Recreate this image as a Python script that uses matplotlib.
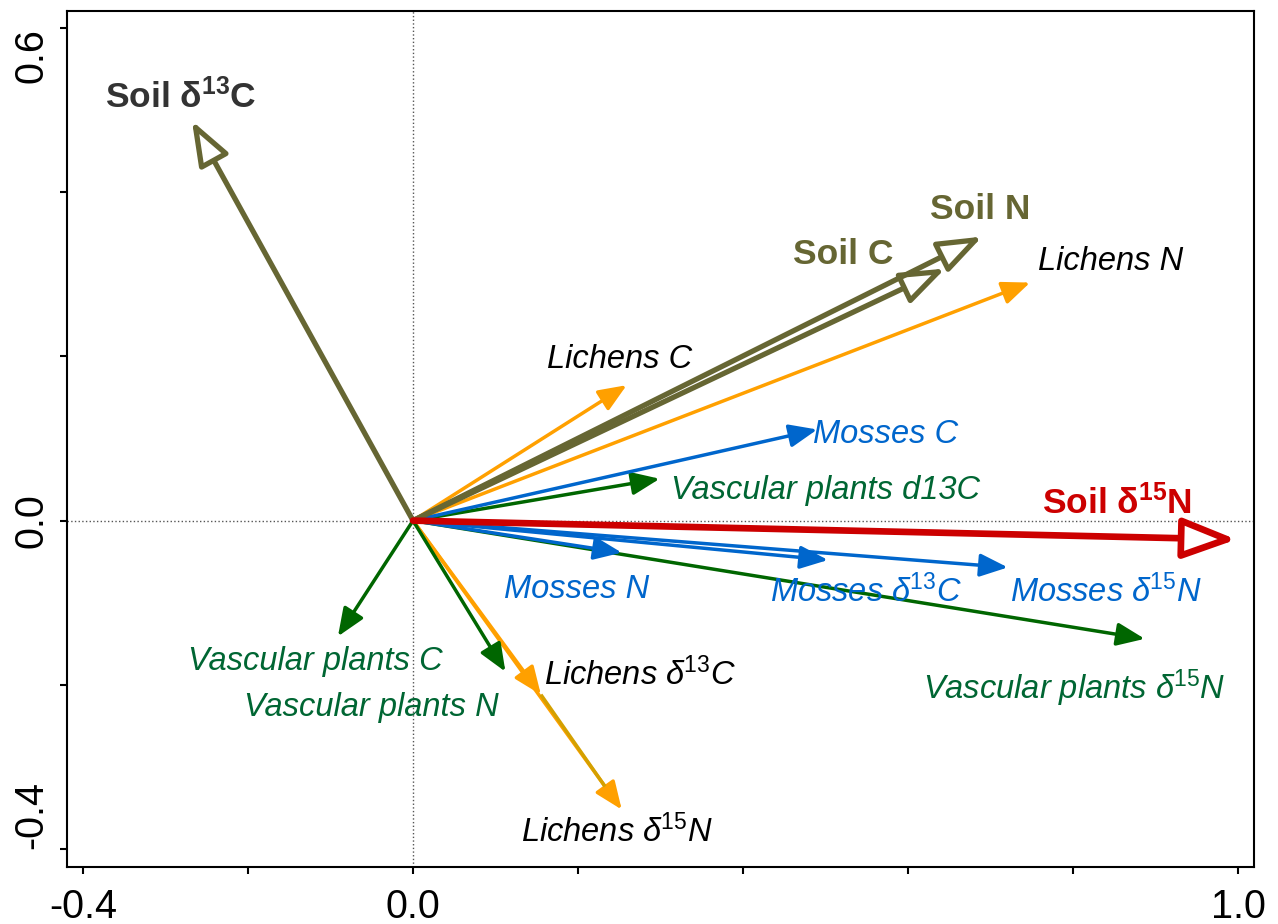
import matplotlib.pyplot as plt

plt.rcParams['font.family'] = ['Liberation Sans', 'DejaVu Sans']
plt.rcParams['mathtext.fontset'] = 'custom'
plt.rcParams['mathtext.rm'] = 'Liberation Sans'
plt.rcParams['mathtext.it'] = 'Liberation Sans:italic'
plt.rcParams['mathtext.bf'] = 'Liberation Sans:bold'

# biplot arrows (tip coordinates)
var_names = ['Lichens C', 'Lichens N', 'Lichens δ$^{\\mathit{13}}$C', 'Lichens δ$^{\\mathit{15}}$N',
             'Vascular plants C', 'Vascular plants N', 'Vascular plants d13C',
             'Vascular plants δ$^{\\mathit{15}}$N',
             'Mosses C', 'Mosses N', 'Mosses δ$^{\\mathit{13}}$C', 'Mosses δ$^{\\mathit{15}}$N',
             'Soil δ$^{\\mathbf{13}}$C', 'Soil C', 'Soil N', 'Soil δ$^{\\mathbf{15}}$N']
var_x = [0.259, 0.748, 0.155, 0.253,
         -0.091, 0.112, 0.299, 0.887,
         0.490, 0.253, 0.503, 0.721,
         -0.268, 0.645, 0.690, 0.998]
var_y = [0.165, 0.290, -0.212, -0.352,
         -0.141, -0.184, 0.051, -0.144,
         0.111, -0.039, -0.048, -0.057,
         0.487, 0.307, 0.346, -0.023]
var_group = ['lichen'] * 4 + ['vascular'] * 4 + ['moss'] * 4 + ['soil'] * 3 + ['soil15']

# where each label sits
lab_x = [0.250, 0.845, 0.275, 0.247,
         -0.119, -0.050, 0.500, 0.801,
         0.573, 0.198, 0.549, 0.840,
         -0.282, 0.521, 0.687, 0.853]
lab_y = [0.196, 0.316, -0.188, -0.379,
         -0.172, -0.228, 0.037, -0.204,
         0.105, -0.084, -0.087, -0.087,
         0.517, 0.324, 0.379, 0.022]

arrow_col = {'lichen': '#FFA000', 'vascular': '#006600', 'moss': '#0066CC',
             'soil': '#666633', 'soil15': '#CC0000'}
text_col = {'lichen': 'black', 'vascular': '#006633', 'moss': '#0066CC',
            'soil': '#666633', 'soil15': '#CC0000'}

fig = plt.figure(figsize=(12.78, 9.24), dpi=100)
ax = fig.add_axes([0.0522, 0.062, 0.929, 0.926])

ax.axhline(0, color='#555555', lw=1, ls=':', zorder=0)
ax.axvline(0, color='#555555', lw=1, ls=':', zorder=0)

order = ['lichen', 'vascular', 'moss', 'soil', 'soil15']
for grp in order:
    for i in range(len(var_names)):
        if var_group[i] != grp:
            continue
        c = arrow_col[grp]
        if grp == 'soil':
            props = dict(arrowstyle='-|>,head_length=27,head_width=10', mutation_scale=1,
                         lw=3.8, ec=c, fc='white', shrinkA=0, shrinkB=0)
        elif grp == 'soil15':
            props = dict(arrowstyle='-|>,head_length=33,head_width=12.5', mutation_scale=1,
                         lw=4.8, ec=c, fc='white', shrinkA=0, shrinkB=0)
        else:
            props = dict(arrowstyle='-|>,head_length=17,head_width=7', mutation_scale=1,
                         lw=2.5, ec=c, fc=c, shrinkA=0, shrinkB=0)
        ax.annotate('', xy=(var_x[i], var_y[i]), xytext=(0, 0), arrowprops=props)

# shaft of the lichens d15N arrow is a darker gold beyond the d13C head
i = 3
ax.plot([var_x[2], var_x[i] * 0.92], [var_y[2], var_y[i] * 0.92], color='#D4A000',
        lw=2.5, solid_capstyle='butt', zorder=3.5)

for i in range(len(var_names)):
    grp = var_group[i]
    if grp in ('soil', 'soil15'):
        col = '#333333' if i == 12 else text_col[grp]
        ax.text(lab_x[i], lab_y[i], var_names[i], color=col, fontsize=25.5,
                fontweight='bold', ha='center', va='center')
    else:
        ax.text(lab_x[i], lab_y[i], var_names[i], color=text_col[grp], fontsize=23.5,
                style='italic', ha='center', va='center')

ax.set_xlim(-0.4198, 1.0194)
ax.set_ylim(-0.4216, 0.6207)

ax.set_xticks([-0.4, -0.2, 0.0, 0.2, 0.4, 0.6, 0.8, 1.0])
ax.set_xticklabels(['-0.4', '', '0.0', '', '', '', '', '1.0'])
ax.set_yticks([-0.4, -0.2, 0.0, 0.2, 0.4, 0.6])
ax.set_yticklabels(['-0.4', '', '0.0', '', '', '0.6'], rotation=90, va='center')
ytl = ax.get_yticklabels()
ytl[0].set_va('bottom')
ytl[-1].set_va('top')

ax.tick_params(direction='out', length=5, width=1.5, labelsize=28.5, color='black')
ax.tick_params(axis='x', pad=10)
ax.tick_params(axis='y', pad=7)
for s in ax.spines.values():
    s.set_linewidth(1.5)

fig.savefig('out.png', dpi=100)
